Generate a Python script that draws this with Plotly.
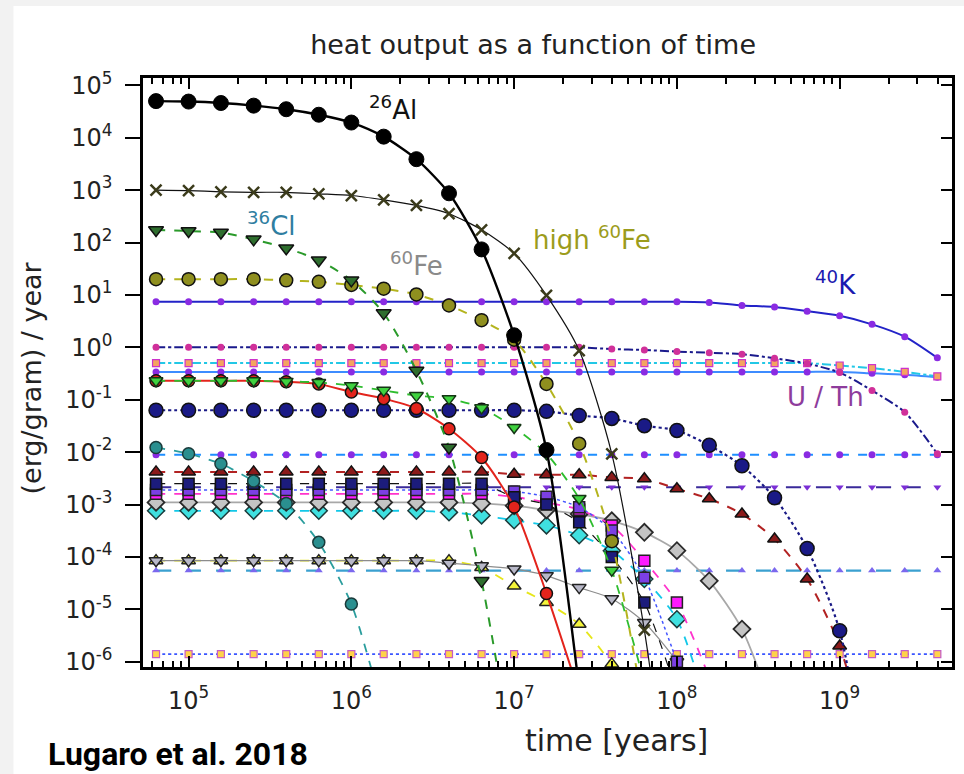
import plotly.graph_objects as go

# ---------------- data ----------------
time_years = [6.31e4, 1.0e5, 1.58e5, 2.51e5, 3.98e5, 6.31e5, 1.0e6, 1.58e6, 2.51e6,
              3.98e6, 6.31e6, 1.0e7, 1.58e7, 2.51e7, 3.98e7, 6.31e7, 1.0e8, 1.58e8,
              2.51e8, 3.98e8, 6.31e8, 1.0e9, 1.58e9, 2.51e9, 3.98e9]

al26 = [5.0e4, 4.9e4, 4.6e4, 4.1e4, 3.5e4, 2.75e4, 1.95e4, 1.05e4, 3.9e3, 870, 74, 1.7,
        1.1e-2, 3e-7, None, None, None, None, None, None, None, None, None, None, None]
high_fe60 = [1000, 980, 930, 910, 910, 850, 790, 650, 510, 355, 175, 62, 9.8, 0.87,
             9.3e-3, 4e-6, 1e-10, None, None, None, None, None, None, None, None]
cl36 = [174, 166, 155, 115, 78, 46, 19, 4.5, 0.36, 0.0123, 3.5e-5, 1e-8, None, None,
        None, None, None, None, None, None, None, None, None, None, None]
fe60 = [20, 20, 20, 20, 19, 17.8, 15.5, 13.2, 10.2, 6.3, 3.3, 1.4, 0.2, 0.0145, 2.0e-4,
        1e-7, None, None, None, None, None, None, None, None, None]
k40 = [7.4, 7.4, 7.4, 7.4, 7.4, 7.4, 7.4, 7.4, 7.4, 7.4, 7.4, 7.4, 7.4, 7.4, 7.4, 7.4,
       7.4, 7.2, 6.3, 5.9, 4.9, 4.0, 2.75, 1.6, 0.63]
u235 = [1.0, 1.0, 1.0, 1.0, 1.0, 1.0, 1.0, 1.0, 1.0, 1.0, 1.0, 1.0, 1.0, 1.0, 0.93, 0.89,
        0.83, 0.79, 0.74, 0.62, 0.49, 0.33, 0.15, 0.058, 0.0093]
u238 = [0.5, 0.5, 0.5, 0.5, 0.5, 0.5, 0.5, 0.5, 0.5, 0.5, 0.5, 0.5, 0.5, 0.5, 0.5, 0.5,
        0.5, 0.5, 0.5, 0.5, 0.5, 0.45, 0.40, 0.34, 0.28]
th232 = [0.34, 0.34, 0.34, 0.34, 0.34, 0.34, 0.34, 0.34, 0.34, 0.34, 0.34, 0.34, 0.34,
         0.34, 0.34, 0.34, 0.34, 0.34, 0.34, 0.34, 0.34, 0.34, 0.32, 0.30, 0.27]
red_circles = [0.23, 0.23, 0.23, 0.23, 0.22, 0.20, 0.14, 0.105, 0.068, 0.028, 0.0079,
               9e-4, 2e-5, 2.5e-7, None, None, None, None, None, None, None, None, None,
               None, None]
green_tri = [0.23, 0.23, 0.23, 0.23, 0.224, 0.214, 0.186, 0.151, 0.12, 0.105, 0.07,
             0.0295, 0.0093, 0.0013, 5.6e-5, 4e-7, None, None, None, None, None, None,
             None, None, None]
navy_circles = [0.063, 0.063, 0.063, 0.063, 0.063, 0.063, 0.063, 0.063, 0.063, 0.063,
                0.063, 0.063, 0.060, 0.050, 0.044, 0.032, 0.026, 0.0135, 0.0055,
                1.35e-3, 1.45e-4, 3.9e-6, 1e-9, None, None]
blue_dashed = [0.0089, 0.0089, 0.0089, 0.0089, 0.0089, 0.0089, 0.0089, 0.0089, 0.0089,
               0.0089, 0.0089, 0.0089, 0.0089, 0.0089, 0.0089, 0.0089, 0.0089, 0.0089,
               0.0089, 0.0089, 0.0089, 0.0089, 0.0089, 0.0089, 0.0089]
maroon_tri = [4.2e-3, 4.2e-3, 4.2e-3, 4.2e-3, 4.2e-3, 4.2e-3, 4.2e-3, 4.2e-3, 4.2e-3,
              4.2e-3, 4.2e-3, 3.8e-3, 3.7e-3, 3.7e-3, 3.3e-3, 3.1e-3, 2.0e-3, 1.29e-3,
              6.6e-4, 2.2e-4, 3.8e-5, 2.0e-6, 1e-8, None, None]
purple_longdash = [2.14e-3, 2.14e-3, 2.14e-3, 2.14e-3, 2.14e-3, 2.14e-3, 2.14e-3,
                   2.14e-3, 2.14e-3, 2.14e-3, 2.14e-3, 2.14e-3, 2.14e-3, 2.14e-3,
                   2.14e-3, 2.14e-3, 2.14e-3, 2.14e-3, 2.14e-3, 2.14e-3, 2.14e-3,
                   2.14e-3, 2.14e-3, 2.14e-3, 2.14e-3]
navy_squares = [2.5e-3, 2.5e-3, 2.5e-3, 2.5e-3, 2.5e-3, 2.5e-3, 2.5e-3, 2.5e-3, 2.5e-3,
                2.5e-3, 2.5e-3, 1.38e-3, 1.0e-3, 4.6e-4, 1.0e-4, 1.35e-5, 2.5e-7, None,
                None, None, None, None, None, None, None]
violet_squares = [1.9e-3, 1.9e-3, 1.9e-3, 1.9e-3, 1.9e-3, 1.9e-3, 1.9e-3, 1.9e-3,
                  1.9e-3, 1.9e-3, 1.9e-3, 1.78e-3, 1.41e-3, 8.9e-4, 3.2e-4, 4e-5, 1e-6,
                  None, None, None, None, None, None, None, None]
magenta_squares = [1.6e-3, 1.6e-3, 1.6e-3, 1.6e-3, 1.6e-3, 1.6e-3, 1.6e-3, 1.6e-3,
                   1.6e-3, 1.6e-3, 1.6e-3, 1.4e-3, 1.1e-3, 8e-4, 4e-4, 8.5e-5, 1.35e-5,
                   5e-7, None, None, None, None, None, None, None]
gray_diamonds = [1.1e-3, 1.1e-3, 1.1e-3, 1.1e-3, 1.1e-3, 1.1e-3, 1.1e-3, 1.1e-3, 1.1e-3,
                 1.1e-3, 1.05e-3, 9.5e-4, 7.9e-4, 6.6e-4, 4.9e-4, 2.95e-4, 1.32e-4,
                 3.5e-5, 4.2e-6, 1e-7, None, None, None, None, None]
cyan_diamonds = [7.6e-4, 7.6e-4, 7.6e-4, 7.6e-4, 7.6e-4, 7.6e-4, 7.6e-4, 7.6e-4, 7.6e-4,
                 7.1e-4, 6.2e-4, 5.0e-4, 4.0e-4, 2.6e-4, 1.32e-4, 3.8e-5, 6.5e-6, 1e-7,
                 None, None, None, None, None, None, None]
teal_circles = [0.0123, 0.0093, 0.006, 0.0028, 1.05e-3, 1.9e-4, 1.26e-5, 1e-7, None,
                None, None, None, None, None, None, None, None, None, None, None, None,
                None, None, None, None]
gray_tri_down = [8.5e-5, 8.5e-5, 8.5e-5, 8.5e-5, 8.5e-5, 8.5e-5, 8.5e-5, 8.5e-5, 8.5e-5,
                 7.6e-5, 6.8e-5, 5.9e-5, 4.4e-5, 2.6e-5, 1.6e-5, 5.6e-6, 1.0e-6, 1e-7,
                 None, None, None, None, None, None, None]
yellow_tri = [8.5e-5, 8.5e-5, 8.5e-5, 8.5e-5, 8.5e-5, 8.5e-5, 8.5e-5, 8.5e-5, 8.5e-5,
              8.5e-5, 6.3e-5, 2.8e-5, 1.35e-5, 5.2e-6, 9.1e-7, 1e-7, None, None, None,
              None, None, None, None, None, None]
lightblue_longdash = [5.5e-5, 5.5e-5, 5.5e-5, 5.5e-5, 5.5e-5, 5.5e-5, 5.5e-5, 5.5e-5,
                      5.5e-5, 5.5e-5, 5.5e-5, 5.5e-5, 5.5e-5, 5.5e-5, 5.5e-5, 5.5e-5,
                      5.5e-5, 5.5e-5, 5.5e-5, 5.5e-5, 5.5e-5, 5.5e-5, 5.5e-5, 5.5e-5,
                      5.5e-5]
bottom_dotted = [1.4e-6, 1.4e-6, 1.4e-6, 1.4e-6, 1.4e-6, 1.4e-6, 1.4e-6, 1.4e-6, 1.4e-6,
                 1.4e-6, 1.4e-6, 1.4e-6, 1.4e-6, 1.4e-6, 1.4e-6, 1.4e-6, 1.4e-6, 1.4e-6,
                 1.4e-6, 1.4e-6, 1.4e-6, 1.4e-6, 1.4e-6, 1.4e-6, 1.4e-6]

y_tick_vals = [1e-6, 1e-5, 1e-4, 1e-3, 1e-2, 1e-1, 1e0, 1e1, 1e2, 1e3, 1e4, 1e5]
y_tick_text = ["10<sup>-6</sup>", "10<sup>-5</sup>", "10<sup>-4</sup>", "10<sup>-3</sup>",
               "10<sup>-2</sup>", "10<sup>-1</sup>", "10<sup>0</sup>", "10<sup>1</sup>",
               "10<sup>2</sup>", "10<sup>3</sup>", "10<sup>4</sup>", "10<sup>5</sup>"]
x_tick_vals = [1e5, 1e6, 1e7, 1e8, 1e9]
x_tick_text = ["10<sup>5</sup>", "10<sup>6</sup>", "10<sup>7</sup>", "10<sup>8</sup>",
               "10<sup>9</sup>"]
x_minor_vals = [6e4, 7e4, 8e4, 9e4,
                2e5, 3e5, 4e5, 5e5, 6e5, 7e5, 8e5, 9e5,
                2e6, 3e6, 4e6, 5e6, 6e6, 7e6, 8e6, 9e6,
                2e7, 3e7, 4e7, 5e7, 6e7, 7e7, 8e7, 9e7,
                2e8, 3e8, 4e8, 5e8, 6e8, 7e8, 8e8, 9e8,
                2e9, 3e9, 4e9]

# ---------------- figure ----------------
fig = go.Figure()


def add(y, symbol, size, fill, outline, owidth, lcolor, lwidth, dash):
    fig.add_trace(go.Scatter(
        x=time_years, y=y, mode="lines+markers",
        line=dict(color=lcolor, width=lwidth, dash=dash, shape="spline", smoothing=0.7),
        marker=dict(symbol=symbol, size=size, color=fill,
                    line=dict(color=outline, width=owidth)),
        connectgaps=False, showlegend=False, hoverinfo="skip"))


# background constant lines
add(bottom_dotted, "square", 7, "#ffd24a", "#c65cc6", 1.2, "#3a55ff", 1.8, "dot")
add(lightblue_longdash, "triangle-up", 7, "#7b68ee", "#7b68ee", 0, "#3aa0d0", 2.2, "longdash")
add(purple_longdash, "triangle-down", 7, "#7b2fd6", "#7b2fd6", 0, "#3a2a9a", 2.2, "longdash")
add(blue_dashed, "circle", 7, "#8a2be2", "#8a2be2", 0, "#1e8fff", 2.0, "dash")
add(th232, "circle", 7, "#8a2be2", "#8a2be2", 0, "#3d8cff", 2.0, "solid")
add(u238, "square", 7, "#f4a460", "#cc33cc", 1.2, "#22c8e6", 2.0, "dashdot")
add(u235, "circle", 7, "#d0309a", "#d0309a", 0, "#1a1a8c", 2.0, "dashdot")
add(k40, "circle", 7, "#8a2be2", "#8a2be2", 0, "#2323c8", 2.0, "solid")

# decaying groups around 1e-3 .. 1e-4
add(yellow_tri, "triangle-up", 12, "#f5f53a", "#222222", 1.5, "#e6e61a", 1.8, "dash")
add(gray_tri_down, "triangle-down", 12, "#b8b8c8", "#222222", 1.5, "#8c8c8c", 1.2, "solid")
add(cyan_diamonds, "diamond", 13, "#3fe0e0", "#1b3b3b", 1.5, "#12c8e8", 1.8, "dash")
add(gray_diamonds, "diamond", 13, "#c4c4c4", "#2a2a2a", 1.8, "#a8a8a8", 1.8, "solid")
add(magenta_squares, "square", 11, "#ff1aff", "#222222", 1.5, "#ff33cc", 1.8, "dash")
add(violet_squares, "square", 11, "#7b3fe4", "#222222", 1.5, "#4455ff", 1.5, "dot")
add(navy_squares, "square", 11, "#1c1c7c", "#111111", 1.5, "#111111", 1.2, "dash")
add(maroon_tri, "triangle-up", 12, "#8b1a1a", "#111111", 1.5, "#b22222", 2.0, "dash")
add(teal_circles, "circle", 12, "#2a8f8f", "#1a3a3a", 1.5, "#2a9d9d", 1.8, "dash")
add(navy_circles, "circle", 14, "#1a1a86", "#111111", 1.5, "#1a1a86", 2.2, "dot")
add(red_circles, "circle", 12, "#e3241c", "#111111", 1.5, "#e3241c", 2.0, "solid")
add(green_tri, "triangle-down", 12, "#3fd23f", "#153515", 1.5, "#2ebd2e", 1.8, "dash")

# top group
add(fe60, "circle", 13, "#8f8f1f", "#111111", 1.5, "#b4b41e", 2.0, "dash")
add(cl36, "triangle-down", 13, "#2e6e2e", "#111111", 1.5, "#2a9a2a", 2.0, "dash")
add(high_fe60, "x-thin-open", 11, "#3b3b1b", "#3b3b1b", 2.5, "#111111", 1.2, "solid")
add(al26, "circle", 15, "#000000", "#000000", 1, "#000000", 2.4, "solid")

# invisible trace that activates the mirrored top / right axes
fig.add_trace(go.Scatter(x=[time_years[0]], y=[bottom_dotted[0]], xaxis="x2", yaxis="y2",
                         mode="markers", marker=dict(opacity=0), showlegend=False,
                         hoverinfo="skip"))

FONT = "DejaVu Sans"
XR = [4.72, 9.69]
YR = [-6.1, 5.14]

fig.update_layout(
    width=964, height=774,
    margin=dict(l=143, r=9, t=78, b=107),
    paper_bgcolor="#f2f2f2",
    plot_bgcolor="white",
    showlegend=False,
    font=dict(family=FONT, size=24, color="#222222"),
    title=dict(text="heat output as a function of time", x=0.553, xref="container",
               y=1 - 45 / 774, yref="container", xanchor="center", yanchor="middle",
               font=dict(family=FONT, size=27, color="#222222")),
    xaxis=dict(type="log", range=XR, showgrid=False, zeroline=False,
               showline=True, linecolor="black", linewidth=2.5, mirror=True,
               ticks="inside", ticklen=11, tickwidth=2, tickcolor="black",
               tickvals=x_tick_vals, ticktext=x_tick_text, ticklabelstandoff=10,
               tickfont=dict(family=FONT, size=24, color="#222222"),
               minor=dict(tickvals=x_minor_vals, ticks="inside", ticklen=6,
                          tickwidth=1.5, tickcolor="black", showgrid=False)),
    xaxis2=dict(type="log", range=XR, overlaying="x", side="top", anchor="y2",
                showgrid=False, zeroline=False, showline=False,
                ticks="inside", ticklen=11, tickwidth=2, tickcolor="black",
                tickvals=x_tick_vals, showticklabels=False,
                minor=dict(tickvals=x_minor_vals, ticks="inside", ticklen=6,
                           tickwidth=1.5, tickcolor="black", showgrid=False)),
    yaxis=dict(type="log", range=YR, showgrid=False, zeroline=False,
               showline=True, linecolor="black", linewidth=2.5, mirror=True,
               ticks="outside", ticklen=15, tickwidth=2, tickcolor="black",
               tickvals=y_tick_vals, ticktext=y_tick_text, ticklabelstandoff=8,
               tickfont=dict(family=FONT, size=24, color="#222222")),
    yaxis2=dict(type="log", range=YR, overlaying="y", side="right", anchor="x2",
                showgrid=False, zeroline=False, showline=False,
                ticks="inside", ticklen=11, tickwidth=2, tickcolor="black",
                tickvals=y_tick_vals, showticklabels=False),
)

# white card behind the chart (reference has a thin light-grey margin on top/left)
fig.add_shape(type="rect", xref="paper", yref="paper", layer="below",
              x0=(13 - 143) / 812, x1=(970 - 143) / 812,
              y0=(667 - 780) / 589, y1=(667 - 6) / 589,
              fillcolor="white", line=dict(width=0))


def px_x(p):
    return (p - 143) / 812


def px_y(p):
    return (667 - p) / 589


labels = [
    ("<sup>26</sup>Al", 394, 108, "#111111"),
    ("<sup>36</sup>Cl", 272, 224, "#2f7ea1"),
    ("<sup>60</sup>Fe", 418, 264, "#8a8a8a"),
    ("high <sup>60</sup>Fe", 594, 238, "#9c9c1c"),
    ("<sup>40</sup>K", 838, 283, "#1a1ab0"),
    ("U / Th", 828, 397, "#8e3c9c"),
]
for txt, xp, yp, col in labels:
    fig.add_annotation(text=txt, x=px_x(xp), y=px_y(yp), xref="paper", yref="paper",
                       showarrow=False, xanchor="center", yanchor="middle",
                       font=dict(family=FONT, size=26, color=col))

# axis titles
fig.add_annotation(text="(erg/gram) / year", x=px_x(32), y=px_y(378), xref="paper",
                   yref="paper", showarrow=False, textangle=-90, xanchor="center",
                   yanchor="middle", font=dict(family=FONT, size=27, color="#222222"))
fig.add_annotation(text="time [years]", x=px_x(618), y=px_y(740), xref="paper",
                   yref="paper", showarrow=False, xanchor="center", yanchor="middle",
                   font=dict(family=FONT, size=30, color="#222222"))
fig.add_annotation(text="<b>Lugaro et al. 2018</b>", x=px_x(46), y=px_y(754),
                   xref="paper", yref="paper", showarrow=False, xanchor="left",
                   yanchor="middle", font=dict(family="Roboto", size=32, color="black"))

fig.write_html("out.html")
